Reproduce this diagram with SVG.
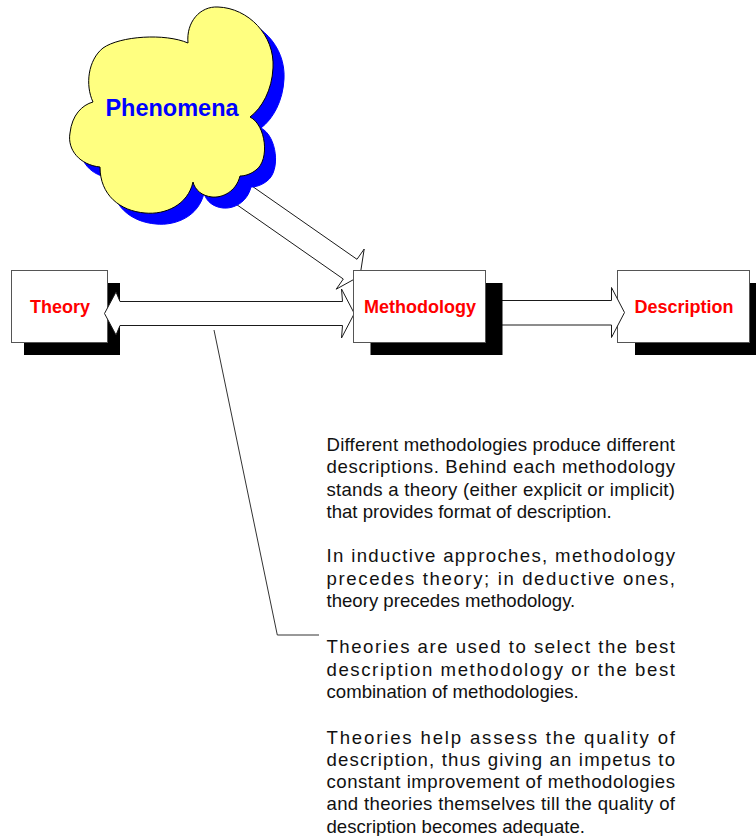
<svg xmlns="http://www.w3.org/2000/svg" width="756" height="836" viewBox="0 0 756 836">
<style>
.box{fill:#fff;stroke:#555;stroke-width:1}
.shadow{fill:#000}
.lbl{font-family:"Liberation Sans",Arial,sans-serif;font-weight:bold;font-size:18px;fill:#f00;text-anchor:middle}
.arrow{fill:#fff;stroke:#1a1a1a;stroke-width:1;stroke-linejoin:miter}
.body{font-family:"Liberation Sans",Arial,sans-serif;font-size:18.6px;fill:#111}
</style>
<rect width="756" height="836" fill="#fff"/>
<g id="theory">
<rect class="shadow" x="24" y="283" width="96" height="72"/>
<rect class="box" x="11.5" y="270.5" width="96" height="72"/>
<text class="lbl" x="60" y="313">Theory</text>
</g>
<g id="description">
<rect class="shadow" x="635" y="283" width="132" height="72"/>
<rect class="box" x="617.5" y="270.5" width="132" height="72"/>
<text class="lbl" x="684" y="313">Description</text>
</g>
<g id="connectors">
<polygon class="arrow" points="360,276 364.2,249 357,259.3 235.7,174.7 221.9,194.3 343.3,279 336.2,289.2"/>
<polygon class="arrow" points="104.5,313.5 116,292 120,301.5 342.5,301.5 341.5,289 354.3,313.5 341.5,338 342.5,325.5 120,325.5 116,335"/>
<path class="arrow" d="M495,300.5 H611.5 V287.5 L624.5,312.5 L611.5,337.5 V325 H495"/>
<polyline points="214,330 277.3,635 319,635" fill="none" stroke="#333" stroke-width="1"/>
</g>
<g id="phenomena">
<path transform="translate(11,11)" fill="#00f" stroke="#00f" stroke-width="1" d="M188,43 C186,22 200,6 218,7 C248,8 275,35 273,68 C272,90 262,108 250,117 C266,125 270,160 256,170 C251,174 245,176 240,176 C236,192 222,198 212,197 C202,196 195,190 193,182 C188,205 165,215 145,213 C120,211 100,195 100,167 C80,165 67,150 70,133 C72,115 82,105 93,102 C85,85 88,60 103,48 C120,36 165,33 188,43 Z"/>
<path fill="#ffff80" stroke="#000" stroke-width="1" d="M188,43 C186,22 200,6 218,7 C248,8 275,35 273,68 C272,90 262,108 250,117 C266,125 270,160 256,170 C251,174 245,176 240,176 C236,192 222,198 212,197 C202,196 195,190 193,182 C188,205 165,215 145,213 C120,211 100,195 100,167 C80,165 67,150 70,133 C72,115 82,105 93,102 C85,85 88,60 103,48 C120,36 165,33 188,43 Z"/>
<text x="172" y="116" font-family="Liberation Sans,Arial,sans-serif" font-weight="bold" font-size="23.5" fill="#00f" text-anchor="middle">Phenomena</text>
</g>
<g id="methodology">
<rect class="shadow" x="370.5" y="283" width="132" height="72"/>
<rect class="box" x="353.5" y="270.5" width="132" height="72"/>
<text class="lbl" x="420" y="313">Methodology</text>
</g>
<g id="notes" class="body">
<text x="326.5" y="450.5" textLength="348.5" lengthAdjust="spacing">Different methodologies produce different</text>
<text x="326.5" y="473" textLength="348.5" lengthAdjust="spacing">descriptions. Behind each methodology</text>
<text x="326.5" y="495.5" textLength="348.5" lengthAdjust="spacing">stands a theory (either explicit or implicit)</text>
<text x="326.5" y="518">that provides format of description.</text>
<text x="326.5" y="562" textLength="348.5" lengthAdjust="spacing">In inductive approches, methodology</text>
<text x="326.5" y="584.5" textLength="348.5" lengthAdjust="spacing">precedes theory; in deductive ones,</text>
<text x="326.5" y="607">theory precedes methodology.</text>
<text x="326.5" y="653" textLength="348.5" lengthAdjust="spacing">Theories are used to select the best</text>
<text x="326.5" y="675.5" textLength="348.5" lengthAdjust="spacing">description methodology or the best</text>
<text x="326.5" y="698">combination of methodologies.</text>
<text x="326.5" y="743.5" textLength="348.5" lengthAdjust="spacing">Theories help assess the quality of</text>
<text x="326.5" y="765.8" textLength="348.5" lengthAdjust="spacing">description, thus giving an impetus to</text>
<text x="326.5" y="788.1" textLength="348.5" lengthAdjust="spacing">constant improvement of methodologies</text>
<text x="326.5" y="810.4" textLength="348.5" lengthAdjust="spacing">and theories themselves till the quality of</text>
<text x="326.5" y="832.5">description becomes adequate.</text>
</g>
</svg>
